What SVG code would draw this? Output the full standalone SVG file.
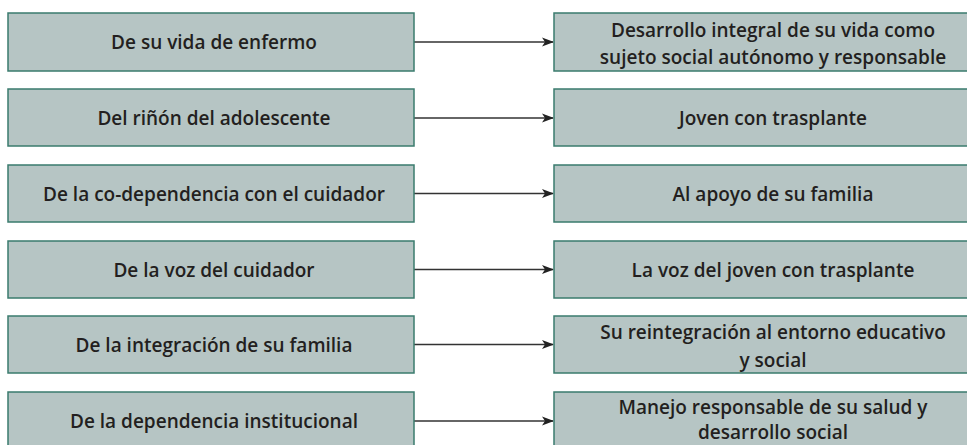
<svg xmlns="http://www.w3.org/2000/svg" width="967" height="445" viewBox="0 0 967 445">
<style>
.box{fill:#b6c5c4;stroke:#3a7b6d;stroke-width:1.5}
.t{font-family:"Open Sans","Noto Sans",sans-serif;font-size:19px;font-weight:600;fill:#231f20;text-anchor:middle}
.c{stroke:#333;stroke-width:1.4;fill:none}
</style>
<defs>
<marker id="ah" markerWidth="12" markerHeight="10" refX="11" refY="5" orient="auto" markerUnits="userSpaceOnUse">
<path d="M0,0.5 L12,5 L0,9.5 L3,5 Z" fill="#222"/>
</marker>
</defs>
<rect width="967" height="445" fill="#fff"/>
<g id="connectors">
<line class="c" x1="414" y1="42" x2="553" y2="42" marker-end="url(#ah)"/>
<line class="c" x1="414" y1="118" x2="553" y2="118" marker-end="url(#ah)"/>
<line class="c" x1="414" y1="193.5" x2="553" y2="193.5" marker-end="url(#ah)"/>
<line class="c" x1="414" y1="269.5" x2="553" y2="269.5" marker-end="url(#ah)"/>
<line class="c" x1="414" y1="344.5" x2="553" y2="344.5" marker-end="url(#ah)"/>
<line class="c" x1="414" y1="421" x2="553" y2="421" marker-end="url(#ah)"/>
</g>
<g id="l1"><rect class="box" x="8" y="13" width="406" height="58"/><text class="t" x="214" y="49">De su vida de enfermo</text></g>
<g id="l2"><rect class="box" x="8" y="89" width="406" height="57"/><text class="t" x="214" y="125">Del riñón del adolescente</text></g>
<g id="l3"><rect class="box" x="8" y="165" width="406" height="57"/><text class="t" x="214" y="201">De la co-dependencia con el cuidador</text></g>
<g id="l4"><rect class="box" x="8" y="241" width="406" height="57"/><text class="t" x="214" y="277">De la voz del cuidador</text></g>
<g id="l5"><rect class="box" x="8" y="316" width="406" height="57"/><text class="t" x="214" y="352">De la integración de su familia</text></g>
<g id="l6"><rect class="box" x="8" y="392" width="406" height="60"/><text class="t" x="214" y="428">De la dependencia institucional</text></g>
<g id="r1"><rect class="box" x="554" y="13" width="440" height="58"/><text class="t" x="773" y="37">Desarrollo integral de su vida como</text><text class="t" x="773" y="64">sujeto social autónomo y responsable</text></g>
<g id="r2"><rect class="box" x="554" y="89" width="440" height="57"/><text class="t" x="773" y="125">Joven con trasplante</text></g>
<g id="r3"><rect class="box" x="554" y="165" width="440" height="57"/><text class="t" x="773" y="201">Al apoyo de su familia</text></g>
<g id="r4"><rect class="box" x="554" y="241" width="440" height="57"/><text class="t" x="773" y="277">La voz del joven con trasplante</text></g>
<g id="r5"><rect class="box" x="554" y="316" width="440" height="57"/><text class="t" x="773" y="339">Su reintegración al entorno educativo</text><text class="t" x="773" y="367">y social</text></g>
<g id="r6"><rect class="box" x="554" y="392" width="440" height="60"/><text class="t" x="773" y="414">Manejo responsable de su salud y</text><text class="t" x="773" y="439">desarrollo social</text></g>
</svg>
